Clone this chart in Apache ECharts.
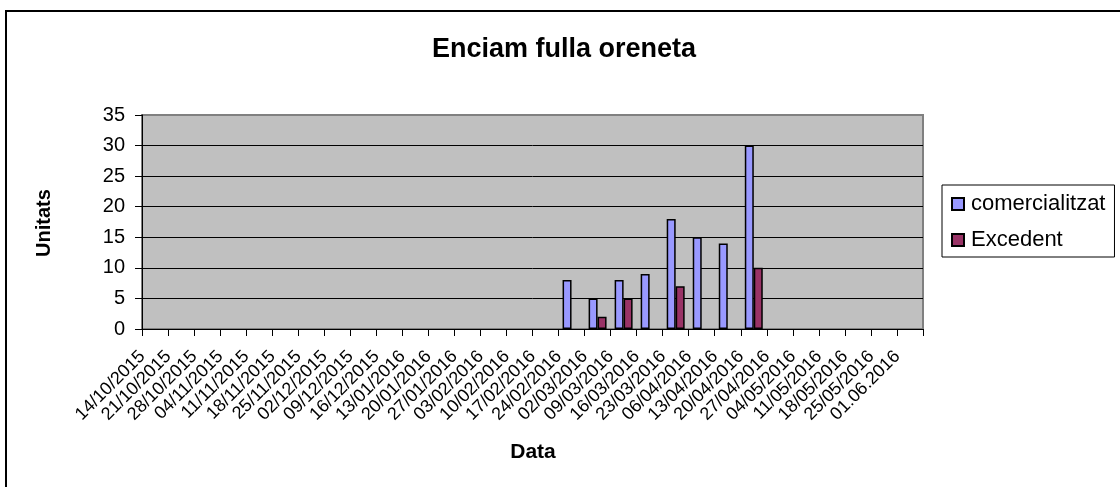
<!DOCTYPE html>
<html>
<head>
<meta charset="utf-8">
<script src="https://cdn.jsdelivr.net/npm/echarts@6/dist/echarts.min.js"></script>
<style>
html,body{margin:0;padding:0;background:#fff;}
#c{width:1120px;height:487px;}
</style>
</head>
<body>
<div id="c"></div>
<script>
const categories = ["14/10/2015","21/10/2015","28/10/2015","04/11/2015","11/11/2015","18/11/2015","25/11/2015","02/12/2015","09/12/2015","16/12/2015","13/01/2016","20/01/2016","27/01/2016","03/02/2016","10/02/2016","17/02/2016","24/02/2016","02/03/2016","09/03/2016","16/03/2016","23/03/2016","06/04/2016","13/04/2016","20/04/2016","27/04/2016","04/05/2016","11/05/2016","18/05/2016","25/05/2016","01.06.2016"];
const comercialitzat = [null,null,null,null,null,null,null,null,null,null,null,null,null,null,null,null,8,5,8,9,18,15,14,30,null,null,null,null,null,null];
const excedent = [null,null,null,null,null,null,null,null,null,null,null,null,null,null,null,null,null,2,5,null,7,null,null,10,null,null,null,null,null,null];
const seriesNames = ["comercialitzat","Excedent"];
const titleText = "Enciam fulla oreneta";
const xTitle = "Data";
const yTitle = "Unitats";

const FONT = "'Liberation Sans', Arial, sans-serif";
const chart = echarts.init(document.getElementById('c'));
chart.setOption({
  animation: false,
  backgroundColor: '#fff',
  title: {
    text: titleText, left: 559, top: 31, textAlign: 'center',
    textStyle: {fontFamily: FONT, fontSize: 27, fontWeight: 'bold', color: '#000'}
  },
  legend: {
    orient: 'vertical', left: 942, top: 185,
    data: seriesNames.map(n => ({name: n, icon: 'rect'})),
    itemWidth: 12, itemHeight: 12, itemGap: 14,
    padding: [8, 9, 6, 9],
    borderColor: '#000', borderWidth: 1,
    textStyle: {fontFamily: FONT, fontSize: 22, color: '#000', padding: [0,0,0,2]}
  },
  grid: {
    left: 142, right: 197, top: 115, bottom: 158,
    show: true, backgroundColor: '#C0C0C0', borderColor: '#808080', borderWidth: 2
  },
  xAxis: {
    type: 'category', data: categories,
    axisLine: {lineStyle: {color: '#000', width: 1}},
    axisTick: {show: true, interval: 0, length: 7, inside: false, lineStyle: {color: '#000'}},
    axisLabel: {interval: 0, rotate: 45, margin: 12, padding: [0, 18, 0, 0], fontFamily: FONT, fontSize: 18, color: '#000'},
    splitLine: {show: false}
  },
  yAxis: {
    type: 'value', min: 0, max: 35, interval: 5,
    axisLine: {show: true, lineStyle: {color: '#000', width: 1}},
    axisTick: {show: true, length: 7, lineStyle: {color: '#000'}},
    axisLabel: {margin: 17, fontFamily: FONT, fontSize: 20, color: '#000'},
    splitLine: {show: true, showMaxLine: false, lineStyle: {color: '#000', width: 1}}
  },
  series: [
    {name: seriesNames[0], type: 'bar', data: comercialitzat, barGap: '0%', barCategoryGap: '31%',
     itemStyle: {color: '#9999FF', borderColor: '#000', borderWidth: 1.5}},
    {name: seriesNames[1], type: 'bar', data: excedent,
     itemStyle: {color: '#993366', borderColor: '#000', borderWidth: 1.5}}
  ],
  graphic: [
    {type: 'line', shape: {x1: 6, y1: 11, x2: 1120, y2: 11}, style: {stroke: '#000', lineWidth: 2}},
    {type: 'line', shape: {x1: 6, y1: 10, x2: 6, y2: 487}, style: {stroke: '#000', lineWidth: 2}},
    {type: 'text', x: 533, y: 452, style: {text: xTitle, font: "bold 21px " + FONT, fill: '#000', textAlign: 'center', textVerticalAlign: 'middle'}},
    {type: 'text', x: 44, y: 223, rotation: Math.PI/2, style: {text: yTitle, font: "bold 20px " + FONT, fill: '#000', textAlign: 'center', textVerticalAlign: 'middle'}}
  ]
});
</script>
</body>
</html>
